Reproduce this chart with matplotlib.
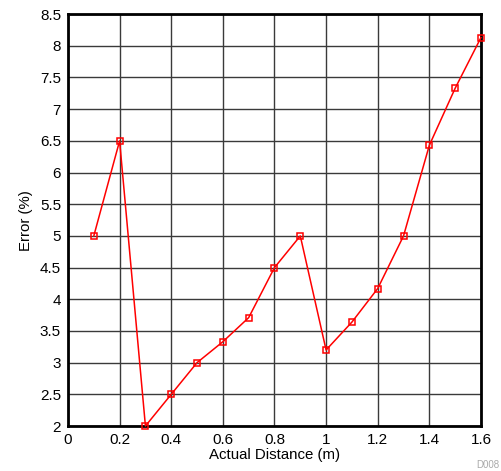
import numpy as np
import matplotlib
matplotlib.use('Agg')
import matplotlib.pyplot as plt

plt.rcParams['font.family'] = ['Liberation Sans', 'DejaVu Sans']

# data
distance = [0.1, 0.2, 0.3, 0.4, 0.5, 0.6, 0.7, 0.8, 0.9, 1.0, 1.1, 1.2, 1.3, 1.4, 1.5, 1.6]
error = [5.0, 6.5, 2.0, 2.5, 3.0, 3.33, 3.71, 4.5, 5.0, 3.2, 3.64, 4.17, 5.0, 6.43, 7.33, 8.13]

x_ticks = [0, 0.2, 0.4, 0.6, 0.8, 1, 1.2, 1.4, 1.6]
y_ticks = [2, 2.5, 3, 3.5, 4, 4.5, 5, 5.5, 6, 6.5, 7, 7.5, 8, 8.5]

fig = plt.figure(figsize=(5.01, 4.71), dpi=100)
ax = fig.add_axes([0.1357, 0.0955, 0.8243, 0.8745])

ax.plot(distance, error, color='red', lw=1.1, marker='s', markersize=4.5,
        markerfacecolor='none', markeredgecolor='red', markeredgewidth=1.1,
        zorder=3, clip_on=False)

ax.set_xlim(0, 1.6)
ax.set_ylim(2, 8.5)
ax.set_xticks(x_ticks)
ax.set_xticklabels([f'{t:g}' for t in x_ticks])
ax.set_yticks(y_ticks)
ax.set_yticklabels([f'{t:g}' for t in y_ticks])
ax.tick_params(length=0, labelsize=11, pad=5)

ax.grid(True, color='#3a3a3a', lw=1)
ax.set_axisbelow(True)
for s in ax.spines.values():
    s.set_linewidth(2)
    s.set_color('black')

ax.set_xlabel('Actual Distance (m)', fontsize=10.8, labelpad=1)
ax.set_ylabel('Error (%)', fontsize=10.8, labelpad=5)

# figure code in the bottom-right corner
fig.text(0.997, 0.003, 'D008', fontsize=7, color='#aaaaaa', ha='right', va='bottom')

plt.savefig('out.png', dpi=100)
